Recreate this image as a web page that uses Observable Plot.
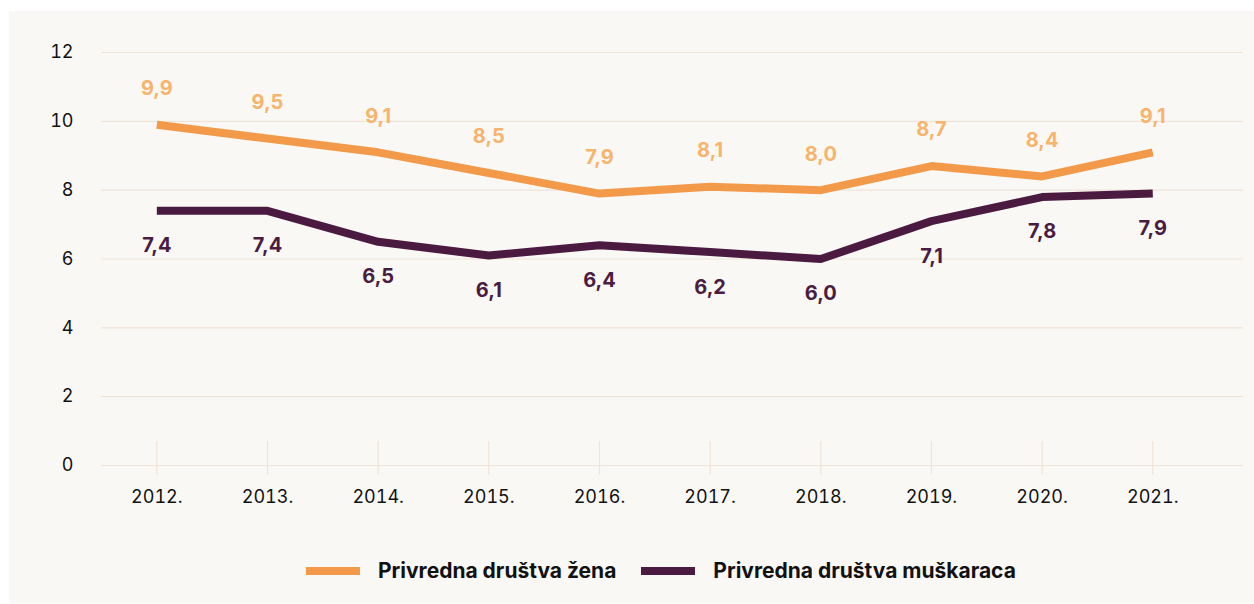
<!DOCTYPE html>
<html>
<head>
<meta charset="utf-8">
<script src="https://cdn.jsdelivr.net/npm/d3@7"></script>
<script src="https://cdn.jsdelivr.net/npm/@observablehq/plot@0.6"></script>
<style>
  html, body { margin: 0; padding: 0; background: #ffffff; }
  body { width: 1254px; height: 604px; overflow: hidden; position: relative; font-family: Inter, "Noto Sans", sans-serif; }
  #panel { position: absolute; left: 9px; top: 11px; width: 1245px; height: 592px; background: #faf8f5; }
  #chart { position: absolute; left: 0; top: 0; }
  #legend { position: absolute; left: 0; top: 547px; width: 1245px; display: flex; justify-content: flex-start; align-items: center; font-weight: 700; font-size: 21px; color: #111; }
  .item { display: flex; align-items: center; }
  .sw { width: 54px; height: 8px; margin-right: 18px; }
</style>
</head>
<body>
<div id="panel">
  <div id="chart"></div>
  <div id="legend"></div>
</div>
<script>
const years = [2012, 2013, 2014, 2015, 2016, 2017, 2018, 2019, 2020, 2021];
const zene = [9.9, 9.5, 9.1, 8.5, 7.9, 8.1, 8.0, 8.7, 8.4, 9.1];
const muskarci = [7.4, 7.4, 6.5, 6.1, 6.4, 6.2, 6.0, 7.1, 7.8, 7.9];
const seriesNames = ["Privredna društva žena", "Privredna društva muškaraca"];
const lineColors = ["#f39a4a", "#4b1a40"];
const labelColors = ["#f7b46c", "#4b1c41"];
const yTicks = [0, 2, 4, 6, 8, 10, 12];

const fmt = v => d3.format(".1f")(v).replace(".", ",");
const dataZ = years.map((y, i) => ({year: y, value: zene[i]}));
const dataM = years.map((y, i) => ({year: y, value: muskarci[i]}));

const chart = Plot.plot({
  width: 1245,
  height: 520,
  marginLeft: 92,
  marginRight: 11,
  marginTop: 41,
  marginBottom: 66,
  style: {fontFamily: "Inter, 'Noto Sans', sans-serif", fontSize: "18px", color: "#111", background: "transparent"},
  x: {domain: [2011.5, 2021.82], axis: null, label: null},
  y: {domain: [0, 12], axis: null, label: null},
  marks: [
    Plot.ruleY(yTicks, {stroke: "#f0e3d8", strokeWidth: 1.2}),
    Plot.ruleX(years, {y1: 0.7, y2: -0.27, stroke: "#f0e3d8", strokeWidth: 1.2}),
    Plot.axisY({ticks: yTicks, tickSize: 0, tickPadding: 28, fontSize: 18, fill: "#111", label: null}),
    Plot.axisX({ticks: years, tickSize: 0, tickPadding: 25, tickFormat: d => d + ".", fontSize: 18, fill: "#111", label: null}),
    Plot.line(dataZ, {x: "year", y: "value", stroke: lineColors[0], strokeWidth: 8, strokeLinecap: "butt", strokeLinejoin: "miter"}),
    Plot.line(dataM, {x: "year", y: "value", stroke: lineColors[1], strokeWidth: 8, strokeLinecap: "butt", strokeLinejoin: "miter"}),
    Plot.text(dataZ, {x: "year", y: "value", text: d => fmt(d.value), dy: -36, fill: labelColors[0], fontWeight: 700, fontSize: 20}),
    Plot.text(dataM, {x: "year", y: "value", text: d => fmt(d.value), dy: 35, fill: labelColors[1], fontWeight: 700, fontSize: 20})
  ]
});
document.getElementById("chart").appendChild(chart);

const legend = document.getElementById("legend");
seriesNames.forEach((name, i) => {
  const item = document.createElement("div");
  item.className = "item";
  item.style.marginLeft = i === 0 ? "297px" : "25px";
  const sw = document.createElement("div");
  sw.className = "sw";
  sw.style.background = lineColors[i];
  const t = document.createElement("span");
  t.textContent = name;
  item.appendChild(sw);
  item.appendChild(t);
  legend.appendChild(item);
});
</script>
</body>
</html>
